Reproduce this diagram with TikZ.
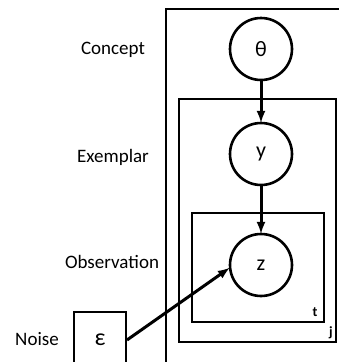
\documentclass[tikz,border=0pt]{standalone}
\usepackage{fontspec}
\setmainfont{Carlito}
\tikzset{
  var/.style={draw,circle,line width=2.6pt,minimum size=62pt,inner sep=0pt,font=\fontsize{22}{24}\selectfont},
  plate/.style={draw,line width=1.6pt},
  lbl/.style={font=\fontsize{19}{22}\selectfont},
  idx/.style={font=\fontsize{14}{16}\selectfont\bfseries},
  link/.style={->,>=latex,line width=3pt,shorten >=-1pt}
}
\begin{document}
\begin{tikzpicture}[x=1pt,y=-1pt]
  \clip (0,0) rectangle (339,362);
  % plates
  \draw[plate] (166,9) rectangle (350,375);
  \draw[plate] (179,99) rectangle (336,342);
  \draw[plate] (192,213) rectangle (324,322);
  \node (j) at (331,333) [idx] {j};
  \node (t) at (315,312) [idx] {t};
  % variables
  \node (theta) at (261,49) [var] {θ};
  \node (y) at (261,154) [var] {y};
  \node (z) at (261,265) [var] {z};
  \node (eps) at (100,340) [draw,line width=2pt,minimum width=52pt,minimum height=56pt,font=\fontsize{24}{26}\selectfont] {ε};
  % level names
  \node (concept) at (113,50) [lbl] {Concept};
  \node (exemplar) at (113,157) [lbl] {Exemplar};
  \node (observation) at (112,262) [lbl] {Observation};
  \node (noise) at (37,339) [lbl] {Noise};
  \draw[link] (theta) -- (y);
  \draw[link] (y) -- (z);
  \draw[link] (eps.east) -- (z.186);
\end{tikzpicture}
\end{document}
